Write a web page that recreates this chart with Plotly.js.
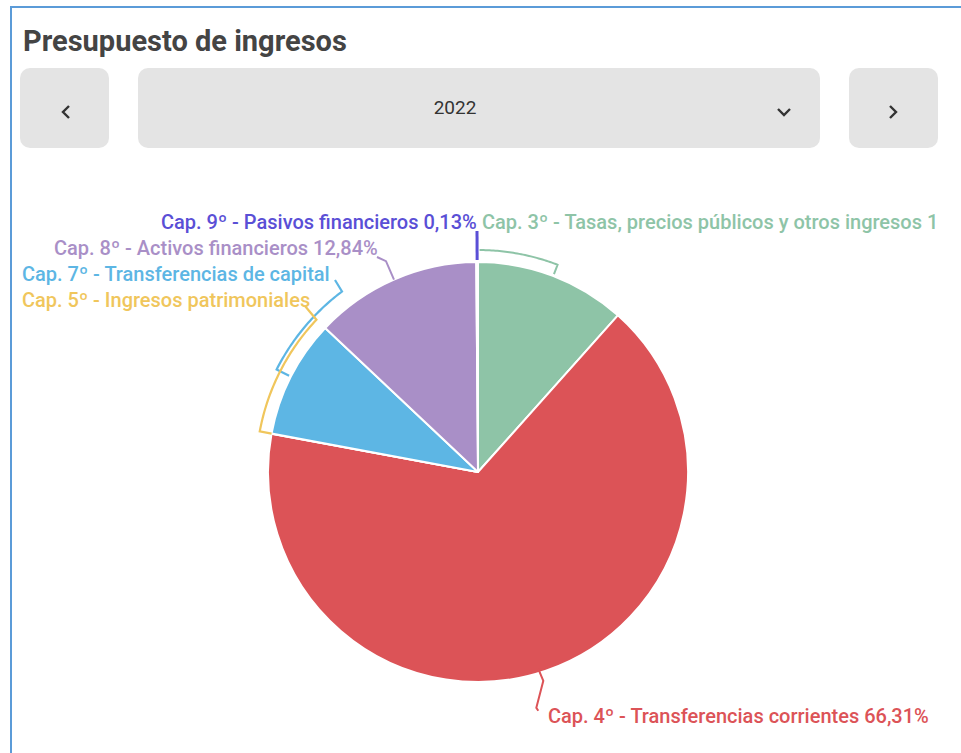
<!DOCTYPE html>
<html>
<head>
<meta charset="utf-8">
<script src="https://cdn.plot.ly/plotly-3.0.1.min.js"></script>
<style>
  html, body { margin:0; padding:0; background:#fff; width:961px; height:753px; overflow:hidden; font-family: Roboto, "Noto Sans", sans-serif; }
  #card { position:absolute; left:10px; top:6px; width:1000px; height:800px; border-left:2px solid #5b9bd8; border-top:2px solid #5b9bd8; }
  #title { position:absolute; left:23px; top:24px; font-size:29px; font-weight:700; color:#444; font-family: Roboto, sans-serif; }
  .btn { position:absolute; top:68px; height:80px; background:#e4e4e4; border-radius:10px; }
  #year { position:absolute; left:138px; width:682px; top:68px; height:80px; line-height:80px; text-align:center; font-size:19px; color:#333; font-family: Roboto, sans-serif; }
  #plot { position:absolute; left:0; top:0; width:940px; height:753px; overflow:hidden; }
</style>
</head>
<body>
<div id="card"></div>
<div id="title">Presupuesto de ingresos</div>
<div class="btn" style="left:20px;width:89px;"></div>
<div class="btn" style="left:138px;width:682px;"></div>
<div class="btn" style="left:849px;width:89px;"></div>
<div id="year"><span style="position:relative;left:-24px;">2022</span></div>
<svg style="position:absolute;left:0;top:0" width="961" height="200">
  <polyline points="69,106 63,112 69,118" fill="none" stroke="#333" stroke-width="2.4"/>
  <polyline points="890,106 896,112 890,118" fill="none" stroke="#333" stroke-width="2.4"/>
  <polyline points="778,109 784,115 790,109" fill="none" stroke="#333" stroke-width="2.4"/>
</svg>
<div id="plot"></div>
<script>
// ---- data ----
const categories = [
  'Cap. 3º - Tasas, precios públicos y otros ingresos',
  'Cap. 4º - Transferencias corrientes',
  'Cap. 5º - Ingresos patrimoniales',
  'Cap. 7º - Transferencias de capital',
  'Cap. 8º - Activos financieros',
  'Cap. 9º - Pasivos financieros'
];
const values = [11.60, 66.31, 0.02, 9.10, 12.84, 0.13];
// label texts as they appear on the chart (some are truncated in the original)
const labelTexts = [
  'Cap. 3º - Tasas, precios públicos y otros ingresos 1',
  'Cap. 4º - Transferencias corrientes 66,31%',
  'Cap. 5º - Ingresos patrimoniales',
  'Cap. 7º - Transferencias de capital',
  'Cap. 8º - Activos financieros 12,84%',
  'Cap. 9º - Pasivos financieros 0,13%'
];
const colors = ['#8ec4a7', '#dc5357', '#f0c65c', '#5db6e4', '#a98fc7', '#5a4fd6'];

// ---- geometry (pixels) ----
const W = 940, H = 753;
const cx = 478, cy = 472, R = 210;
const px = x => x / W;
const py = y => 1 - y / H;
function pt(angDeg, r) {
  const a = angDeg * Math.PI / 180;
  return [cx + r * Math.sin(a), cy - r * Math.cos(a)];
}
function pathFrom(points) {
  return points.map((p, i) => (i ? 'L' : 'M') + px(p[0]).toFixed(5) + ',' + py(p[1]).toFixed(5)).join(' ');
}
function arcPts(a1, a2, r) {
  const n = 40, out = [];
  for (let i = 0; i <= n; i++) out.push(pt(a1 + (a2 - a1) * i / n, r));
  return out;
}

const total = values.reduce((s, v) => s + v, 0);
const starts = [], ends = [];
let acc = 0;
values.forEach(v => { starts.push(acc / total * 360); acc += v; ends.push(acc / total * 360); });
const mids = starts.map((s, i) => (s + ends[i]) / 2);

const shapes = [];
function line(points, color, w) {
  shapes.push({type: 'path', xref: 'paper', yref: 'paper', path: pathFrom(points),
    line: {color: color, width: w || 2}, fillcolor: 'rgba(0,0,0,0)'});
}
// Cap 9 leader (vertical)
line([pt(mids[5], 212), pt(mids[5], 241)], colors[5], 3);
// Cap 3 bracket
line(arcPts(0.4, 21, 222).concat([pt(21, 212)]), colors[0], 2);
// Cap 8 leader
line([pt(mids[4], 210), pt(mids[4], 230), [377, 257]], colors[4], 2);
// Cap 7 bracket
line([[335, 280]].concat(arcPts(323, 297, 226)).concat([pt(297, 212)]), colors[3], 2.2);
// Cap 5 bracket (spans the Cap 7 slice)
line([[305, 306]].concat(arcPts(ends[3], starts[3], 222)).concat([pt(starts[3], 210)]), colors[2], 2.2);
// Cap 4 leader
const r0 = pt(mids[1], 208);
line([[r0[0] - 7, r0[1]], [r0[0] - 2, r0[1] + 12], [r0[0] - 9, r0[1] + 39], [r0[0] - 7, r0[1] + 42]], colors[1], 2);

// ---- labels ----
const labelPos = [
  {x: 480, y: 222, anchor: 'left'},
  {x: 546, y: 716, anchor: 'left'},
  {x: 20, y: 300, anchor: 'left'},
  {x: 20, y: 274, anchor: 'left'},
  {x: 52, y: 248, anchor: 'left'},
  {x: 479, y: 222, anchor: 'right'}
];
const annotations = labelTexts.map((t, i) => ({
  xref: 'paper', yref: 'paper',
  x: px(labelPos[i].x), y: py(labelPos[i].y),
  xanchor: labelPos[i].anchor, yanchor: 'middle',
  text: t,
  showarrow: false,
  font: {family: 'Roboto, sans-serif', size: 20, weight: 500, color: colors[i]}
}));

const trace = {
  type: 'pie',
  labels: categories,
  values: values,
  sort: false,
  direction: 'clockwise',
  rotation: 0,
  textinfo: 'none',
  hoverinfo: 'none',
  marker: {colors: colors, line: {color: '#ffffff', width: 2}},
  domain: {x: [px(cx - R), px(cx + R)], y: [py(cy + R), py(cy - R)]},
  showlegend: false
};

Plotly.newPlot('plot', [trace], {
  width: W, height: H,
  margin: {l: 0, r: 0, t: 0, b: 0},
  paper_bgcolor: 'rgba(0,0,0,0)',
  plot_bgcolor: 'rgba(0,0,0,0)',
  showlegend: false,
  shapes: shapes,
  annotations: annotations
}, {staticPlot: true, displayModeBar: false});
</script>
</body>
</html>
